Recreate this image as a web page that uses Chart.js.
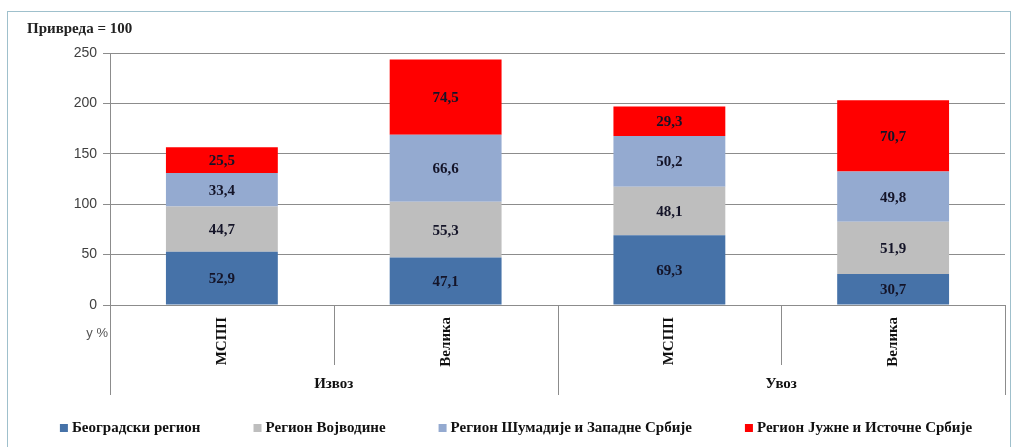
<!DOCTYPE html>
<html><head><meta charset="utf-8">
<script src="https://cdn.jsdelivr.net/npm/chart.js@4/dist/chart.umd.min.js"></script>
<style>
html,body{margin:0;padding:0;background:#fff;}
#wrap{position:relative;width:1015px;height:447px;overflow:hidden;}
#frame{position:absolute;left:7px;top:11px;width:1004px;height:460px;border:1px solid #9fc0cc;box-sizing:border-box;}
canvas{position:absolute;left:0;top:0;}
</style></head><body>
<div id="wrap"><div id="frame"></div><canvas id="c" width="1015" height="447"></canvas></div>
<script>
const categories = ['МСПП', 'Велика', 'МСПП', 'Велика'];
const groups = ['Извоз', 'Увоз'];
const seriesNames = ['Београдски регион', 'Регион Војводине', 'Регион Шумадије и Западне Србије', 'Регион Јужне и Источне Србије'];
const belgrade = [52.9, 47.1, 69.3, 30.7];
const vojvodina = [44.7, 55.3, 48.1, 51.9];
const sumadija = [33.4, 66.6, 50.2, 49.8];
const south = [25.5, 74.5, 29.3, 70.7];
const yTicks = [0, 50, 100, 150, 200, 250];
const colors = ['#4672A8', '#BEBEBE', '#94AAD0', '#FF0000'];
const chartNote = 'Привреда = 100';
const unitNote = 'у %';

const serif = "'Liberation Serif', 'Times New Roman', serif";
const sans = "'Liberation Sans', Arial, sans-serif";

const decor = {
  id: 'decor',
  afterDatasetsDraw(chart) {
    const ctx = chart.ctx;
    ctx.save();
    ctx.font = 'bold 15px ' + serif;
    ctx.fillStyle = '#141428';
    ctx.textAlign = 'center';
    ctx.textBaseline = 'middle';
    chart.data.datasets.forEach((ds, di) => {
      const meta = chart.getDatasetMeta(di);
      meta.data.forEach((bar, i) => {
        const v = ds.data[i];
        ctx.fillText(v.toFixed(1).replace('.', ','), bar.x, (bar.y + bar.base) / 2 + 1);
      });
    });
    ctx.restore();
  },
  afterDraw(chart) {
    const ctx = chart.ctx;
    const x = chart.scales.x;
    const bottom = chart.chartArea.bottom;
    ctx.save();
    ctx.strokeStyle = '#8c8c8c';
    ctx.lineWidth = 1;
    const n = categories.length;
    for (let i = 0; i <= n; i++) {
      const px = Math.round(x.getPixelForValue(i - 0.5)) + 0.5;
      const isGroup = (i % 2 === 0);
      ctx.beginPath();
      ctx.moveTo(px, bottom);
      ctx.lineTo(px, bottom + (isGroup ? 90 : 60));
      ctx.stroke();
    }
    ctx.font = 'bold 15px ' + serif;
    ctx.fillStyle = '#111';
    ctx.textAlign = 'center';
    ctx.textBaseline = 'middle';
    groups.forEach((g, gi) => {
      const cx = (x.getPixelForValue(gi * 2 - 0.5) + x.getPixelForValue(gi * 2 + 1.5)) / 2;
      ctx.fillText(g, cx, bottom + 79);
    });
    ctx.font = '13px ' + sans;
    ctx.fillStyle = '#555';
    ctx.textAlign = 'right';
    ctx.fillText(unitNote, chart.chartArea.left - 2, bottom + 28);
    ctx.font = 'bold 15px ' + serif;
    ctx.fillStyle = '#222';
    ctx.textAlign = 'left';
    ctx.fillText(chartNote, 27, 29);
    ctx.font = 'bold 15px ' + serif;
    const box = 8, gapBox = 4, gapItem = 53;
    const widths = seriesNames.map(s => ctx.measureText(s).width);
    const total = widths.reduce((a, b) => a + b, 0) + seriesNames.length * (box + gapBox) + gapItem * (seriesNames.length - 1);
    let lx = 516 - total / 2;
    const ly = 428;
    ctx.textBaseline = 'middle';
    seriesNames.forEach((s, i) => {
      ctx.fillStyle = colors[i];
      ctx.fillRect(lx, ly - box / 2, box, box);
      lx += box + gapBox;
      ctx.fillStyle = '#111';
      ctx.fillText(s, lx, ly);
      lx += widths[i] + gapItem;
    });
    ctx.restore();
  }
};

new Chart(document.getElementById('c'), {
  type: 'bar',
  data: {
    labels: categories,
    datasets: [
      { label: seriesNames[0], data: belgrade, backgroundColor: colors[0] },
      { label: seriesNames[1], data: vojvodina, backgroundColor: colors[1] },
      { label: seriesNames[2], data: sumadija, backgroundColor: colors[2] },
      { label: seriesNames[3], data: south, backgroundColor: colors[3] }
    ]
  },
  options: {
    responsive: false,
    animation: false,
    layout: { padding: { top: 53, right: 10, left: 0, bottom: 0 } },
    datasets: { bar: { categoryPercentage: 1.0, barPercentage: 0.5, borderWidth: 0 } },
    plugins: { legend: { display: false }, tooltip: { enabled: false } },
    scales: {
      x: {
        stacked: true,
        grid: { display: false },
        border: { display: true, color: '#8c8c8c' },
        ticks: { minRotation: 90, maxRotation: 90, padding: 4, color: '#111', font: { family: serif, size: 15, weight: 'bold' } },
        afterFit(s) { s.height = 142; }
      },
      y: {
        stacked: true,
        min: 0, max: 250,
        afterBuildTicks(s) { s.ticks = yTicks.map(v => ({ value: v })); },
        grid: { color: '#8c8c8c', tickLength: 7 },
        border: { color: '#8c8c8c' },
        ticks: { color: '#404040', padding: 6, font: { family: sans, size: 14 } },
        afterFit(s) { s.width = 110; }
      }
    }
  },
  plugins: [decor]
});
</script>
</body></html>
